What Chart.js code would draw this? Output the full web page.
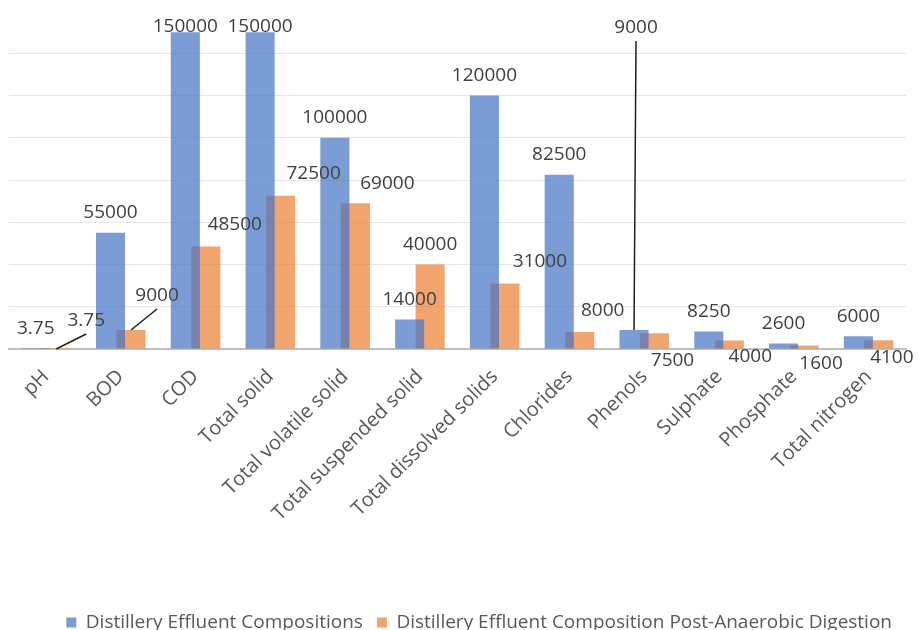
<!DOCTYPE html>
<html>
<head>
<meta charset="utf-8">
<script src="https://cdn.jsdelivr.net/npm/chart.js@4"></script>
<style>
  html, body { margin: 0; padding: 0; background: #fff; }
  #wrap { width: 919px; height: 630px; }
</style>
</head>
<body>
<div id="wrap"><canvas id="chart"></canvas></div>
<script>
'use strict'

const categories = [
  'pH', 'BOD', 'COD', 'Total solid', 'Total volatile solid', 'Total suspended solid',
  'Total dissolved solids', 'Chlorides', 'Phenols', 'Sulphate', 'Phosphate', 'Total nitrogen',
]
const rawValues = [3.75, 55000, 150000, 150000, 100000, 14000, 120000, 82500, 9000, 8250, 2600, 6000]
const digestedValues = [3.75, 9000, 48500, 72500, 69000, 40000, 31000, 8000, 7500, 4000, 1600, 4100]
const seriesNames = ['Distillery Effluent Compositions', 'Distillery Effluent Composition Post-Anaerobic Digestion']

// label nudges (px) from the default spot above each bar, as Excel left them
const rawLabelShift = [[0, 0], [0, 0], [0, 14], [0, 14], [0, 0], [0, 0], [0, 0], [0, 0], [2, -282], [0, 0], [0, 0], [0, 0]]
const digestedLabelShift = [[30, -8], [26, -14], [29, -2], [33, -2], [32, 0], [0, 0], [35, -2], [23, -2], [18, 47], [21, 36], [17, 38], [13, 37]]
const rawLeader = [false, false, false, false, false, false, false, false, true, false, false, false]
const digestedLeader = [true, true, false, false, false, false, false, false, false, false, false, false]

const FONT = "'Open Sans', 'Noto Sans', sans-serif"

const valueLabels = {
  id: 'valueLabels',
  afterDatasetsDraw(chart) {
    const ctx = chart.ctx
    const shifts = [rawLabelShift, digestedLabelShift]
    const leaders = [rawLeader, digestedLeader]
    ctx.save()
    ctx.font = '19px ' + FONT
    ctx.fillStyle = '#404040'
    ctx.strokeStyle = '#202020'
    ctx.lineWidth = 1.5
    ctx.textAlign = 'center'
    ctx.textBaseline = 'middle'
    chart.data.datasets.forEach((ds, di) => {
      chart.getDatasetMeta(di).data.forEach((bar, i) => {
        const [dx, dy] = shifts[di][i]
        const lx = bar.x + dx
        const ly = bar.y - 20 + dy
        if (leaders[di][i]) {
          ctx.beginPath()
          ctx.moveTo(bar.x, bar.y)
          ctx.lineTo(lx, ly + 13)
          ctx.stroke()
        }
        ctx.fillText(String(ds.data[i]), lx, ly)
      })
    })
    ctx.restore()
  },
}

new Chart(document.getElementById('chart'), {
  type: 'bar',
  data: {
    labels: categories,
    datasets: [
      { label: seriesNames[0], data: rawValues, backgroundColor: 'rgba(68,114,196,0.7)' },
      { label: seriesNames[1], data: digestedValues, backgroundColor: 'rgba(237,125,49,0.7)' },
    ],
  },
  options: {
    responsive: true,
    maintainAspectRatio: false,
    animation: false,
    categoryPercentage: 0.548,
    barPercentage: 1.42,
    layout: { padding: { top: 11, left: 8.6, right: 13, bottom: -12 } },
    plugins: {
      legend: {
        position: 'bottom',
        align: 'end',
        labels: {
          boxWidth: 10, boxHeight: 10, padding: 14,
          color: '#595959', font: { family: FONT, size: 19 },
        },
      },
      tooltip: { enabled: false },
    },
    scales: {
      x: {
        grid: { display: false },
        border: { color: '#c0c0c0', width: 2 },
        ticks: {
          autoSkip: false, maxRotation: 45, minRotation: 45, padding: 8,
          color: '#595959', font: { family: FONT, size: 20 },
        },
        afterFit(s) { s.height = 250 },
      },
      y: {
        min: 0, max: 160000,
        ticks: { display: false, stepSize: 20000 },
        border: { display: false },
        grid: {
          drawTicks: false,
          color: c => (c.tick.value === 0 || c.tick.value === 160000) ? 'rgba(0,0,0,0)' : '#e6e6e6',
        },
        afterFit(s) { s.width = 0 },
      },
    },
  },
  plugins: [valueLabels],
})
</script>
</body>
</html>
